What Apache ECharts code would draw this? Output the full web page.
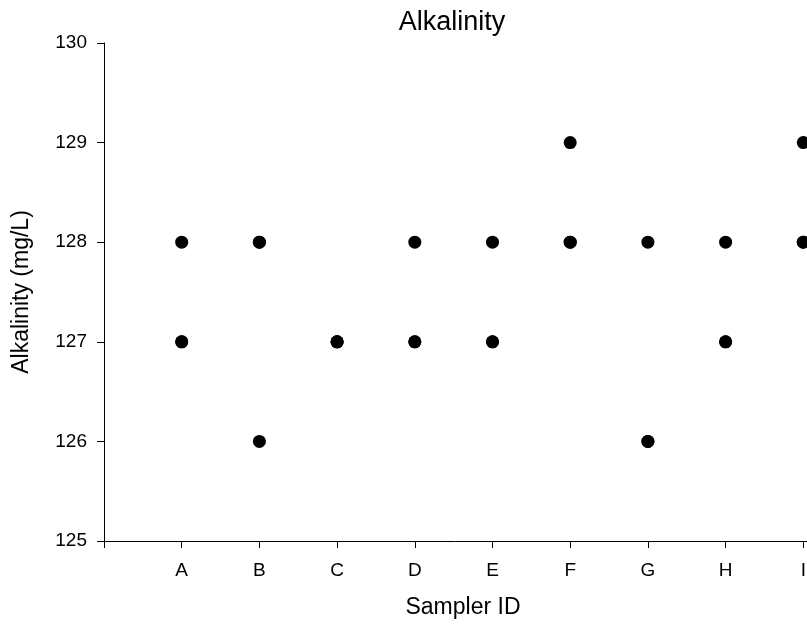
<!DOCTYPE html>
<html>
<head>
<meta charset="utf-8">
<script src="https://cdn.jsdelivr.net/npm/echarts@6/dist/echarts.min.js"></script>
<style>html,body{margin:0;padding:0;background:#fff}#c{width:807px;height:624px}</style>
</head>
<body>
<div id="c"></div>
<script>
var categories = ['A', 'B', 'C', 'D', 'E', 'F', 'G', 'H', 'I'];
var rep1 = [128, 128, 127, 128, 128, 129, 128, 128, 129];
var rep2 = [127, 128, 127, 127, 127, 128, 126, 127, 128];
var rep3 = [127, 126, 127, 127, 127, 128, 126, 127, 128];
var yTicks = [125, 126, 127, 128, 129, 130];

var points = [];
[rep1, rep2, rep3].forEach(function (rep) {
  rep.forEach(function (v, i) { points.push([i + 1, v]); });
});

var font = 'Liberation Sans, Arial, sans-serif';
var chart = echarts.init(document.getElementById('c'));
chart.setOption({
  backgroundColor: '#fff',
  animation: false,
  title: [
    { text: 'Alkalinity', left: 447, top: 4, textAlign: 'center',
      textStyle: { fontFamily: font, fontSize: 27, fontWeight: 'normal', color: '#000' } },
    { text: 'Sampler ID', left: 458, top: 591, textAlign: 'center',
      textStyle: { fontFamily: font, fontSize: 23, fontWeight: 'normal', color: '#000' } }
  ],
  grid: { left: 104, top: 43, width: 777, bottom: 83, outerBoundsMode: 'none', containLabel: false },
  xAxis: {
    type: 'value', min: 0, max: 10, interval: 1,
    axisLine: { show: true, lineStyle: { color: '#000', width: 1 } },
    axisTick: { show: true, length: 7, lineStyle: { color: '#000' } },
    splitLine: { show: false },
    axisLabel: {
      margin: 20, fontFamily: font, fontSize: 19, color: '#000',
      formatter: function (v) { return (v >= 1 && v <= categories.length) ? categories[v - 1] : ''; }
    }
  },
  yAxis: {
    type: 'value', min: yTicks[0], max: yTicks[yTicks.length - 1], interval: 1,
    name: 'Alkalinity (mg/L)', nameLocation: 'middle', nameGap: 71,
    nameTextStyle: { fontFamily: font, fontSize: 23, color: '#000' },
    axisLine: { show: true, lineStyle: { color: '#000', width: 1 } },
    axisTick: { show: true, length: 7, lineStyle: { color: '#000' } },
    splitLine: { show: false },
    axisLabel: { margin: 17, fontFamily: font, fontSize: 19, color: '#000' }
  },
  series: [{
    type: 'scatter',
    data: points,
    symbol: 'circle',
    symbolSize: 13,
    itemStyle: { color: '#000', opacity: 1 }
  }]
});
</script>
</body>
</html>
